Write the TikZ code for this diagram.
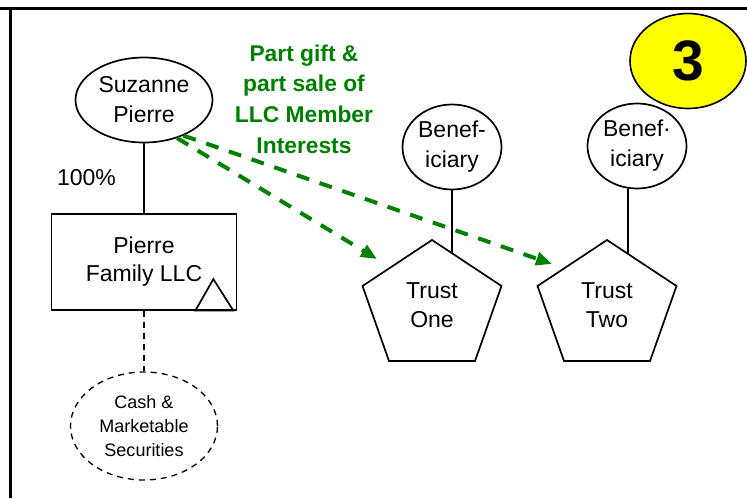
\documentclass[tikz,border=0pt]{standalone}
\usepackage{fontspec}
\setmainfont{Liberation Sans}
\usetikzlibrary{shapes.geometric}
\usetikzlibrary{positioning}
\usetikzlibrary{arrows.meta}
\definecolor{giftgreen}{RGB}{0,128,0}
\definecolor{numyellow}{RGB}{255,255,0}
\tikzset{	node distance=80pt,
	every node/.style={
		align=center,
		font=\fontsize{11.5}{15}\selectfont},
	person/.style={
		draw, ellipse,
		line width=0.85pt,
		inner sep=0pt,
		minimum width=68.5pt,
		minimum height=42.5pt},
	benef/.style={
		person,
		minimum width=49.5pt},
	entity/.style={
		draw, rectangle,
		line width=0.85pt,
		inner sep=0pt,
		minimum width=92.5pt,
		minimum height=47.75pt,
		font=\fontsize{11.5}{14}\selectfont},
	asset/.style={
		draw, ellipse,
		line width=0.65pt,
		dash pattern=on 3pt off 2.5pt,
		inner sep=0pt,
		minimum width=73.5pt,
		minimum height=54pt,
		font=\fontsize{9}{12}\selectfont},
	trust/.style={
		inner sep=0pt,
		font=\fontsize{11.5}{14.5}\selectfont},
	note/.style={
		text=giftgreen,
		font=\bfseries\fontsize{11.4}{15.3}\selectfont},
	badge/.style={
		draw, ellipse,
		fill=numyellow,
		line width=0.8pt,
		inner sep=0pt,
		minimum width=58pt,
		minimum height=47.5pt,
		font=\bfseries\fontsize{28.5}{34}\selectfont},
	tie/.style={
		line width=0.85pt},
	transfer/.style={
		draw=giftgreen,
		line width=2pt,
		dash pattern=on 6.5pt off 5.5pt,
		-{Triangle[length=8pt,width=6.5pt]}}
}
\begin{document}
\begin{tikzpicture}[x=0.5pt, y=-0.5pt]
	\useasboundingbox (0,0) rectangle (747,498);
	% frame
	\draw[line width=1.3pt] (0,8.5) -- (747,8.5);
	\draw[line width=1.6pt] (10.7,8) -- (10.7,498);
	% nodes
	\node[person] (suz) at (144,100) {Suzanne\\Pierre};
	\node[entity, below of=suz, node distance=81pt] (llc) {Pierre\\Family LLC};
	\node[asset, below of=llc, node distance=82pt] (cash) {Cash \&\\Marketable\\Securities};
	\node (pct) at (86.5,178) {100\%};
	\node[trust] (t1) at (432,305) {Trust\\One};
	\node[trust, right of=t1, node distance=87.5pt] (t2) {Trust\\Two};
	\node[benef, above of=t1, node distance=79pt, xshift=10pt] (ben1) {Benef-\\iciary};
	\node[benef, above of=t2, node distance=79.5pt, xshift=15pt] (ben2) {Benef·\\iciary};
	\node[note] (gift) at (304,99) {Part gift \&\\part sale of\\LLC Member\\Interests};
	\node[badge] (num) at (688,61) {3};
	% trust pentagons
	\foreach \t in {t1,t2}
		\draw[tie] ([yshift=32.5pt]\t.center) -- ([shift={(-34.75pt,9.5pt)}]\t.center)
			-- ([shift={(-21.5pt,-28pt)}]\t.center) -- ([shift={(21.5pt,-28pt)}]\t.center)
			-- ([shift={(34.75pt,9.5pt)}]\t.center) -- cycle;
	% LLC mark
	\draw[tie] ([xshift=-21pt]llc.south east) -- ([xshift=-2pt]llc.south east)
		-- ([shift={(-12pt,15.75pt)}]llc.south east) -- cycle;
	% connectors
	\draw[tie] (suz) -- (llc);
	\draw[line width=0.65pt, dash pattern=on 3pt off 2.5pt] (llc) -- (cash);
	\draw[tie] (ben1.south) -- ([shift={(10pt,26pt)}]t1.center);
	\draw[tie] (ben2.-102) -- ([shift={(10.5pt,25.5pt)}]t2.center);
	\draw[transfer] (suz.-49) -- ([shift={(-27.5pt,23pt)}]t1.center);
	\draw[transfer] (suz.-42) -- ([shift={(-27.5pt,20.5pt)}]t2.center);
\end{tikzpicture}
\end{document}
